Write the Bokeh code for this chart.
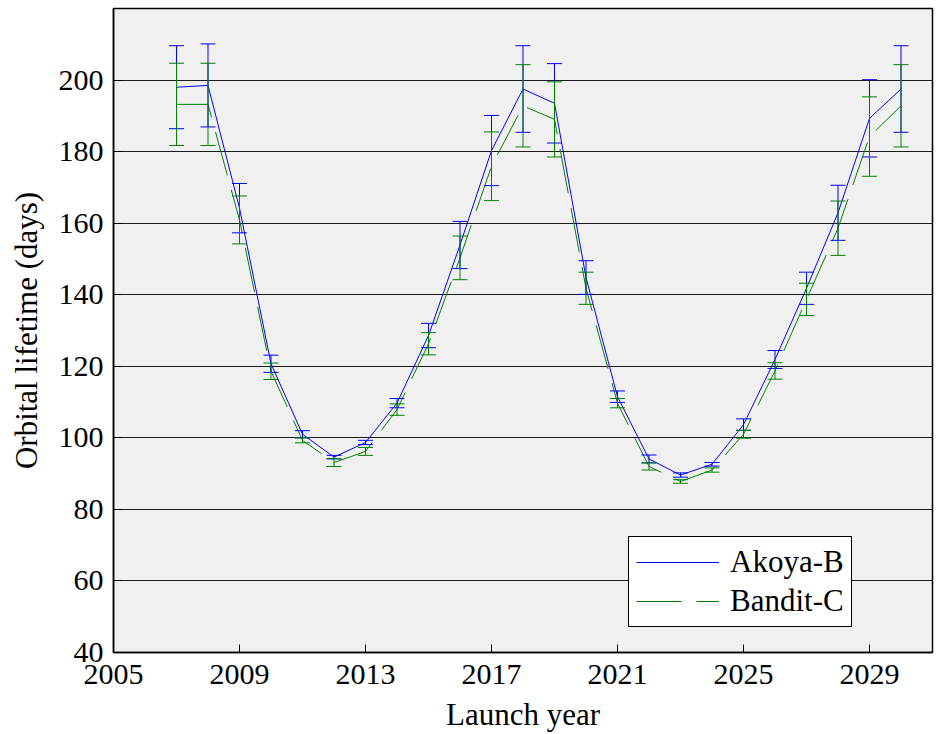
from bokeh.plotting import figure
from bokeh.models import Whisker, ColumnDataSource, FixedTicker, Legend, LegendItem, TeeHead
from bokeh.embed import file_html
from bokeh.resources import INLINE

years = list(range(2007, 2031))
akoya = [198.0, 198.5, 164.2, 120.7, 101.0, 94.6, 98.7, 109.7, 128.6, 153.9, 180.3, 197.5,
         193.5, 144.8, 111.5, 94.1, 89.6, 92.6, 103.7, 121.9, 141.8, 162.9, 189.3, 197.5]
akoya_err = [11.6, 11.6, 6.9, 2.4, 1.0, 0.5, 0.6, 1.3, 3.4, 6.6, 9.8, 12.1,
             11.1, 4.7, 1.6, 1.1, 0.6, 0.5, 1.6, 2.5, 4.5, 7.7, 10.8, 12.1]
bandit = [193.2, 193.2, 160.9, 118.6, 99.3, 93.1, 96.2, 107.9, 126.3, 150.3, 175.9, 192.8,
          189.0, 141.8, 109.7, 92.0, 87.8, 91.0, 101.0, 118.7, 138.7, 158.6, 184.2, 192.8]
bandit_err = [11.5, 11.5, 6.7, 2.3, 0.7, 1.1, 1.1, 1.6, 3.1, 6.1, 9.6, 11.5,
              10.5, 4.5, 1.3, 1.0, 0.5, 0.6, 1.1, 2.3, 4.5, 7.6, 11.1, 11.5]
xticks = [2005, 2009, 2013, 2017, 2021, 2025, 2029]
yticks = [40, 60, 80, 100, 120, 140, 160, 180, 200]

FONT = "Liberation Serif"
BLUE = "#0000ff"
GREEN = "#008000"

p = figure(width=935, height=734, x_range=(2005, 2031), y_range=(40, 220),
           output_backend="svg", toolbar_location=None,
           min_border_left=113, min_border_right=3, min_border_top=8, min_border_bottom=81)
p.background_fill_color = "#f0f0f0"
p.border_fill_color = "white"
p.outline_line_color = "black"
p.outline_line_width = 1.5
p.xgrid.visible = False
p.ygrid.grid_line_color = "#1a1a1a"
p.ygrid.grid_line_width = 1

for ax in (p.xaxis, p.yaxis):
    ax.major_label_text_font = FONT
    ax.major_label_text_font_size = "30px"
    ax.major_label_text_color = "black"
    ax.axis_label_text_font = FONT
    ax.axis_label_text_font_size = "31px"
    ax.axis_label_text_font_style = "normal"
    ax.axis_label_text_color = "black"
    ax.major_tick_in = 8
    ax.major_tick_out = 0
    ax.minor_tick_line_color = None
    ax.axis_line_color = "black"
    ax.axis_line_width = 1.5
    ax.major_tick_line_color = "black"
p.xaxis.ticker = FixedTicker(ticks=xticks)
p.yaxis.ticker = FixedTicker(ticks=yticks)
p.xaxis.axis_label = "Launch year"
p.yaxis.axis_label = "Orbital lifetime (days)"
p.xaxis.major_label_standoff = 12
p.yaxis.major_label_standoff = 10
p.xaxis.axis_label_standoff = 10
p.yaxis.axis_label_standoff = 12

def add_err(vals, errs, color):
    src = ColumnDataSource(dict(x=years,
                                upper=[v + e for v, e in zip(vals, errs)],
                                lower=[v - e for v, e in zip(vals, errs)]))
    w = Whisker(source=src, base="x", upper="upper", lower="lower",
                line_color=color, line_width=1, level="glyph",
                upper_head=TeeHead(size=15, line_color=color, line_width=1),
                lower_head=TeeHead(size=15, line_color=color, line_width=1))
    p.add_layout(w)

add_err(akoya, akoya_err, BLUE)
add_err(bandit, bandit_err, GREEN)

r_a = p.line(years, akoya, line_color=BLUE, line_width=1)
r_b = p.line(years, bandit, line_color=GREEN, line_width=1, line_dash="45 15")

legend = Legend(items=[LegendItem(label="Akoya-B", renderers=[r_a]),
                       LegendItem(label="Bandit-C", renderers=[r_b])],
                location=(515, 25))
legend.border_line_color = "black"
legend.border_line_width = 1
legend.border_line_alpha = 1
legend.background_fill_color = "white"
legend.background_fill_alpha = 1
legend.label_text_font = FONT
legend.label_text_font_size = "31px"
legend.label_text_color = "black"
legend.glyph_width = 83
legend.glyph_height = 30
legend.label_height = 30
legend.label_standoff = 11
legend.spacing = 3
legend.padding = 7
legend.margin = 0
p.add_layout(legend)

open("out.html", "w").write(file_html(p, INLINE))
